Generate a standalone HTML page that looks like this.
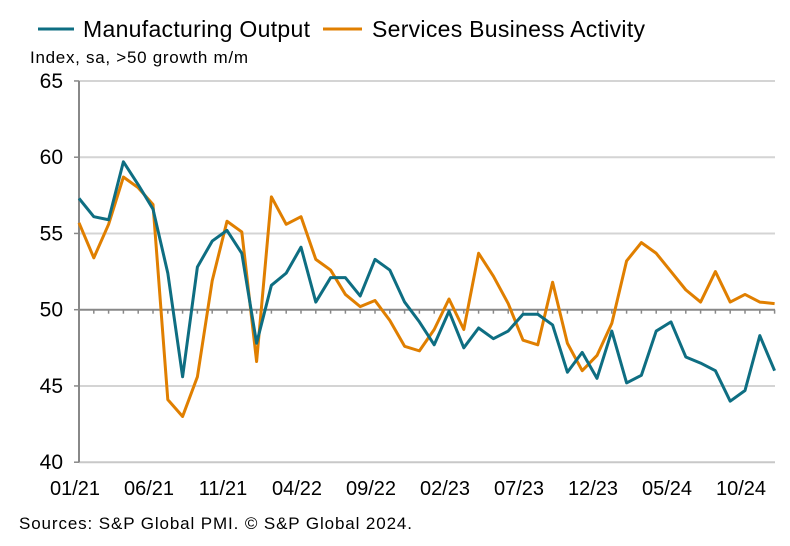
<!DOCTYPE html>
<html><head><meta charset="utf-8"><style>
body{margin:0;background:#fff;}
svg{display:block;font-family:"Liberation Sans",Arial,sans-serif;}
</style></head><body>
<svg id="chart" width="790" height="546" viewBox="0 0 790 546">
<g>
<line x1="38" y1="29" x2="74" y2="29" stroke="#0e6e82" stroke-width="3"/>
<text x="83" y="37" font-size="23" textLength="227" fill="#000">Manufacturing Output</text>
<line x1="323" y1="29" x2="362" y2="29" stroke="#e07f00" stroke-width="3"/>
<text x="372" y="37" font-size="23" textLength="273" fill="#000">Services Business Activity</text>
</g>
<text x="30" y="63" font-size="17" textLength="218" fill="#000">Index, sa, &gt;50 growth m/m</text>
<g id="grid"></g>
<g id="axes"></g>
<g id="series"></g>
<text x="19" y="529" font-size="17" textLength="393" fill="#000">Sources: S&amp;P Global PMI. © S&amp;P Global 2024.</text>
</svg>
<script>
const months=["01/21","02/21","03/21","04/21","05/21","06/21","07/21","08/21","09/21","10/21","11/21","12/21","01/22","02/22","03/22","04/22","05/22","06/22","07/22","08/22","09/22","10/22","11/22","12/22","01/23","02/23","03/23","04/23","05/23","06/23","07/23","08/23","09/23","10/23","11/23","12/23","01/24","02/24","03/24","04/24","05/24","06/24","07/24","08/24","09/24","10/24","11/24","12/24"];
const manufacturing=[57.3,56.1,55.9,59.7,58.2,56.6,52.4,45.6,52.8,54.5,55.2,53.7,47.8,51.6,52.4,54.1,50.5,52.1,52.1,50.9,53.3,52.6,50.5,49.2,47.7,49.9,47.5,48.8,48.1,48.6,49.7,49.7,49.0,45.9,47.2,45.5,48.6,45.2,45.7,48.6,49.2,46.9,46.5,46.0,44.0,44.7,48.3,46.0];
const services=[55.7,53.4,55.6,58.7,58.0,56.9,44.1,43.0,45.6,51.9,55.8,55.1,46.6,57.4,55.6,56.1,53.3,52.6,51.0,50.2,50.6,49.3,47.6,47.3,48.7,50.7,48.7,53.7,52.2,50.4,48.0,47.7,51.8,47.8,46.0,47.0,49.1,53.2,54.4,53.7,52.5,51.3,50.5,52.5,50.5,51.0,50.5,50.4];
const yTicks=[40,45,50,55,60,65];
const xLabelEvery=5;
const NS="http://www.w3.org/2000/svg";
const X0=79,DX=14.8,XR=775;
function xs(i){return X0+DX*i;}
function ys(v){return 309.7-(v-50)*15.25;}
function mk(tag,attrs,parent){const e=document.createElementNS(NS,tag);for(const k in attrs)e.setAttribute(k,attrs[k]);parent.appendChild(e);return e;}
const grid=document.getElementById('grid'),axes=document.getElementById('axes'),series=document.getElementById('series');
yTicks.forEach(v=>{
  if(v!==50&&v!==40){const g=mk('line',{x1:X0,x2:XR,y1:ys(v),y2:ys(v),stroke:'#d4d4d4','stroke-width':2},grid);
  
  }
  const t=mk('line',{x1:X0-5,x2:X0,y1:ys(v),y2:ys(v),stroke:'#888','stroke-width':1.5},axes);
  
  
  const l=mk('text',{x:X0-16,y:ys(v)+7,'font-size':21,'text-anchor':'end',fill:'#000'},axes);
  l.textContent=v;
  
  
});
const base=mk('line',{x1:X0,x2:XR,y1:ys(40),y2:ys(40),stroke:'#c8c8c8','stroke-width':2},axes);


const fifty=mk('line',{x1:X0,x2:XR,y1:ys(50),y2:ys(50),stroke:'#888','stroke-width':2},axes);


months.forEach((m,i)=>{
  if(i>0){const t=mk('line',{x1:xs(i),x2:xs(i),y1:ys(50),y2:ys(50)+4,stroke:'#888','stroke-width':1.5},axes);
  
  }
  if(i%xLabelEvery===0){const l=mk('text',{x:xs(i)-4,y:495,'font-size':20,'text-anchor':'middle',fill:'#000'},axes);
  l.textContent=m;
  
  }
});
const yax=mk('line',{x1:X0,x2:X0,y1:ys(65),y2:ys(40),stroke:'#888','stroke-width':2},axes);


function draw(arr,color,name){
  const p=mk('polyline',{points:arr.map((v,i)=>xs(i)+','+ys(v)).join(' '),fill:'none',stroke:color,'stroke-width':3,'stroke-linejoin':'round'},series);
  
  
}
draw(services,'#e07f00','services-line');
draw(manufacturing,'#0e6e82','manufacturing-line');
</script>
</body></html>
